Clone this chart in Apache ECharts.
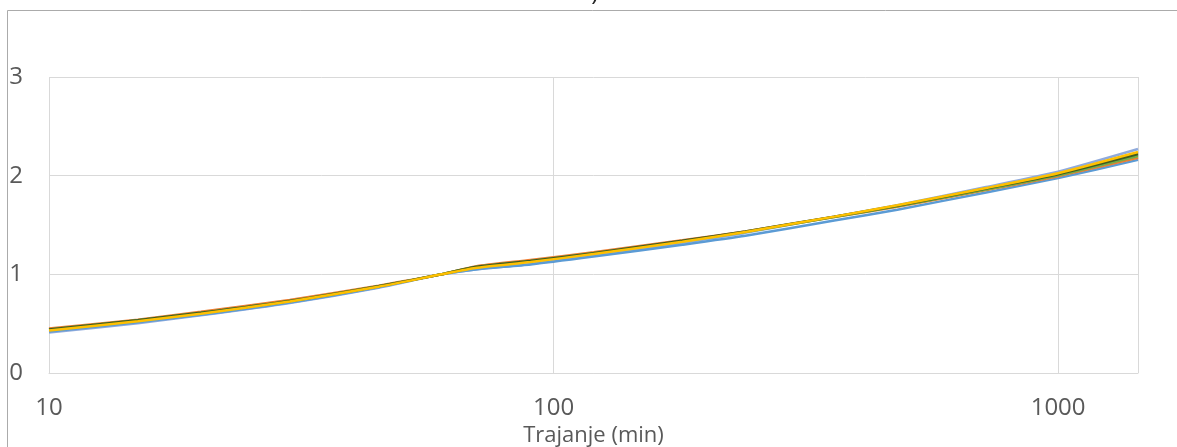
<!DOCTYPE html>
<html>
<head>
<meta charset="utf-8">
<script src="https://cdn.jsdelivr.net/npm/echarts@6/dist/echarts.min.js"></script>
<style>
html,body{margin:0;padding:0;background:#fff;}
#chart{width:1177px;height:447px;}
</style>
</head>
<body>
<div id="chart"></div>
<script>
// Durations (min)
const durations = [10, 15, 20, 30, 45, 60, 70, 90, 120, 180, 240, 360, 480, 720, 1000, 1440];
// Series values (ratio to 60-min value)
const seriesLightBlue = [0.41, 0.505, 0.585, 0.71, 0.865, 1.0, 1.05, 1.105, 1.19, 1.32, 1.42, 1.585, 1.70, 1.885, 2.04, 2.27];
const seriesBlue      = [0.42, 0.515, 0.59, 0.715, 0.87, 1.0, 1.05, 1.10, 1.18, 1.30, 1.39, 1.545, 1.655, 1.83, 1.975, 2.16];
const seriesYellow    = [0.43, 0.525, 0.60, 0.725, 0.875, 1.0, 1.065, 1.125, 1.205, 1.33, 1.43, 1.585, 1.70, 1.875, 2.025, 2.24];
const seriesDark      = [0.44, 0.535, 0.61, 0.73, 0.88, 1.0, 1.075, 1.135, 1.215, 1.34, 1.435, 1.585, 1.695, 1.87, 2.015, 2.22];
const seriesGreen     = [0.44, 0.535, 0.61, 0.73, 0.88, 1.0, 1.075, 1.135, 1.215, 1.335, 1.43, 1.58, 1.69, 1.86, 2.005, 2.20];
const seriesOrange    = [0.45, 0.54, 0.62, 0.74, 0.885, 1.0, 1.08, 1.145, 1.225, 1.345, 1.435, 1.58, 1.685, 1.855, 1.995, 2.18];
const yTicks = [0, 1, 2, 3];
const xTitle = 'Trajanje (min)';
const chartTitle = 'a)';

const seriesDefs = [
  {name: 'S1', data: seriesLightBlue, color: '#8FAADC'},
  {name: 'S6', data: seriesBlue, color: '#5B9BD5'},
  {name: 'S5', data: seriesOrange, color: '#ED7D31'},
  {name: 'S4', data: seriesGreen, color: '#70AD47'},
  {name: 'S3', data: seriesDark, color: '#3E5A22'},
  {name: 'S2', data: seriesYellow, color: '#FFC000'}
];

const chart = echarts.init(document.getElementById('chart'), null, {renderer: 'canvas'});
const font = 'Open Sans';
chart.setOption({
  animation: false,
  backgroundColor: '#ffffff',
  graphic: [
    {type: 'rect', shape: {x: 7.5, y: 10.5, width: 3000, height: 3000},
     style: {fill: 'none', stroke: '#ABABAB', lineWidth: 1}, z: 0, silent: true},
    {type: 'text', x: 578, y: -19,
     style: {text: chartTitle, font: '24px "Open Sans"', fill: '#262626', textAlign: 'left', textVerticalAlign: 'top'}}
  ],
  grid: {left: 49, right: 39, top: 77, bottom: 74, containLabel: false, outerBoundsMode: 'none'},
  xAxis: {
    type: 'log', logBase: 10, min: 10, max: 1440,
    name: xTitle, nameLocation: 'middle', nameGap: 44,
    nameTextStyle: {fontFamily: font, fontSize: 22, color: '#595959'},
    axisLine: {show: true, lineStyle: {color: '#D9D9D9', width: 1}},
    axisTick: {show: false},
    axisLabel: {fontFamily: font, fontSize: 24, color: '#595959', margin: 23, showMaxLabel: false,
                formatter: v => String(Math.round(v))},
    splitLine: {show: true, lineStyle: {color: '#D9D9D9', width: 1}},
    minorTick: {show: false}
  },
  yAxis: {
    type: 'value', min: yTicks[0], max: yTicks[yTicks.length - 1], interval: 1,
    axisLine: {show: false},
    axisTick: {show: false},
    axisLabel: {fontFamily: font, fontSize: 24, color: '#595959', margin: 26},
    splitLine: {show: true, lineStyle: {color: '#D9D9D9', width: 1}}
  },
  series: seriesDefs.map(s => ({
    name: s.name, type: 'line', smooth: 0.2, symbol: 'none',
    lineStyle: {color: s.color, width: 2.5},
    data: durations.map((d, i) => [d, s.data[i]])
  }))
});
</script>
</body>
</html>
